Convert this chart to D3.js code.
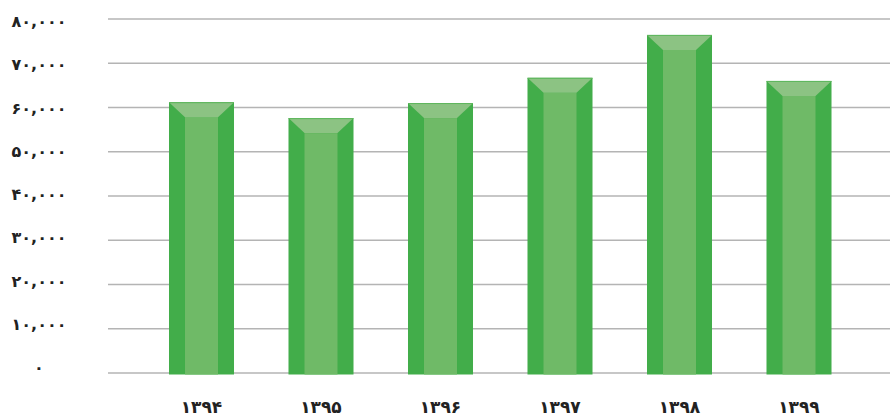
<!DOCTYPE html>
<html>
<head>
<meta charset="utf-8">
<script src="https://cdn.jsdelivr.net/npm/d3@7"></script>
<style>
  html, body { margin: 0; padding: 0; background: #fff; overflow: hidden; }
  svg { display: block; }
  .chart text { font-family: "DejaVu Sans", sans-serif; fill: #222; }
</style>
</head>
<body>
<div class="chart"></div>
<script>
// data
const years = ["1394", "1395", "1396", "1397", "1398", "1399"];
const values = [61200, 57600, 61000, 66700, 76400, 66000];
const yTicks = [0, 10000, 20000, 30000, 40000, 50000, 60000, 70000, 80000];

const width = 890, height = 419;

// persian digits
const fa = s => String(s).replace(/\d/g, d => "۰۱۲۳۴۵۶۷۸۹"[d]);

const svg = d3.select(".chart").append("svg")
  .attr("width", width)
  .attr("height", height);

//x scale
const x = d3.scaleBand()
  .domain(years)
  .range([141.75, 858.75])
  .paddingInner(0.456)
  .paddingOuter(0.228);

//y scale
const y = d3.scaleLinear()
  .domain([0, 80000])
  .range([373, 19]);

// labels sit on their own spacing
const yLabel = d3.scaleLinear()
  .domain([0, 80000])
  .range([367, 21]);

//grid lines
svg.append("g")
  .selectAll("line")
  .data(yTicks)
  .join("line")
  .attr("x1", 108)
  .attr("x2", width)
  .attr("y1", d => y(d))
  .attr("y2", d => y(d))
  .attr("stroke", "#b4b4b4")
  .attr("stroke-width", 1.5);

//y labels
svg.append("g")
  .selectAll("text")
  .data(yTicks)
  .join("text")
  .attr("x", 39)
  .attr("y", d => yLabel(d) + 6)
  .attr("text-anchor", "middle")
  .attr("font-size", 16)
  .attr("font-weight", "bold")
  .text(d => fa(d3.format(",")(d)));

//bars
const bev = 16, depth = 15;
const bars = svg.append("g")
  .selectAll("g")
  .data(years.map((yr, i) => ({ yr, v: values[i] })))
  .join("g");

const base = y(0) + 1.5;

// dark sides
bars.append("rect")
  .attr("x", d => x(d.yr))
  .attr("y", d => y(d.v))
  .attr("width", x.bandwidth())
  .attr("height", d => base - y(d.v))
  .attr("fill", "#42ad4a");

// front face
bars.append("rect")
  .attr("x", d => x(d.yr) + bev)
  .attr("y", d => y(d.v) + depth)
  .attr("width", x.bandwidth() - 2 * bev)
  .attr("height", d => base - y(d.v) - depth)
  .attr("fill", "#6fba67");

// top bevel
bars.append("path")
  .attr("d", d => {
    const x0 = x(d.yr), x1 = x0 + x.bandwidth(), t = y(d.v);
    return `M${x0},${t}L${x1},${t}L${x1 - bev},${t + depth}L${x0 + bev},${t + depth}Z`;
  })
  .attr("fill", "#8cc383");

bars.append("line")
  .attr("x1", d => x(d.yr))
  .attr("x2", d => x(d.yr) + x.bandwidth())
  .attr("y1", d => y(d.v) + 0.5)
  .attr("y2", d => y(d.v) + 0.5)
  .attr("stroke", "#5db65c")
  .attr("stroke-width", 1);

//x labels
svg.append("g")
  .selectAll("text")
  .data(years)
  .join("text")
  .attr("x", d => x(d) + x.bandwidth() / 2)
  .attr("y", 413)
  .attr("text-anchor", "middle")
  .attr("font-size", 17)
  .attr("font-weight", "bold")
  .text(d => fa(d));
</script>
</body>
</html>
